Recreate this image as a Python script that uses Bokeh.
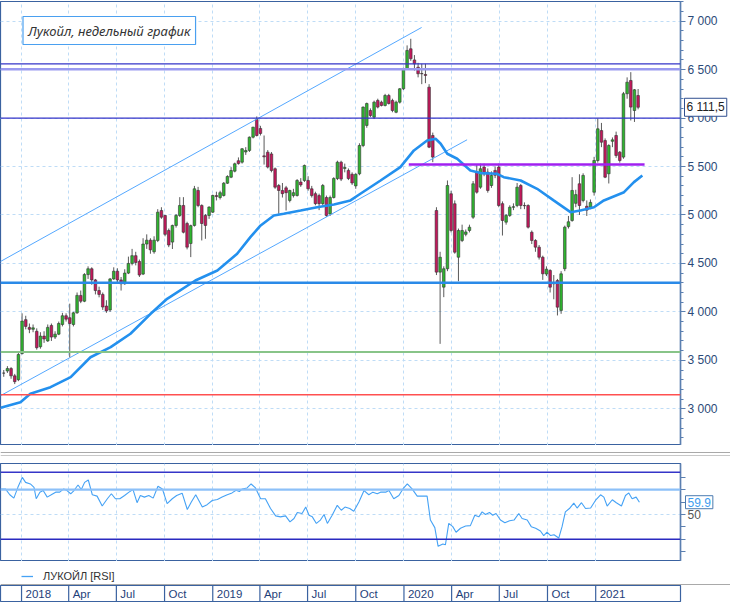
from datetime import datetime
from bokeh.plotting import figure
from bokeh.layouts import column
from bokeh.models import (Range1d, Span, Label, FixedTicker, SingleIntervalTicker,
                          Legend, LegendItem, ColumnDataSource)
from bokeh.core.properties import value
from bokeh.embed import file_html
from bokeh.resources import INLINE

# ---------------- data (weekly candles, first week 2017-11-27) ----------------
opens = [3368, 3390, 3415, 3340, 3300, 3570, 3920, 3840, 3820, 3800,
         3640, 3750, 3700, 3860, 3740, 3770, 3870, 3960, 3940, 3870,
         3990, 4170, 4110, 4385, 4445, 4330, 4220, 4180, 4060, 4020,
         4340, 4420, 4330, 4290, 4400, 4500, 4580, 4520, 4390, 4700,
         4740, 4620, 4737, 5046, 4995, 4840, 4720, 4892, 4995, 5098,
         4912, 4705, 4892, 5253, 5098, 4995, 4995, 5029, 5200, 5180,
         5201, 5328, 5390, 5452, 5560, 5545, 5650, 5666, 5803, 5986,
         5893, 5610, 5648, 5630, 5477, 5304, 5253, 5280, 5150, 5200,
         5201, 5340, 5356, 5356, 5270, 5220, 5200, 5117, 5180, 5010,
         5180, 5376, 5545, 5480, 5460, 5420, 5300, 5425, 5717, 5924,
         6078, 6009, 6182, 6164, 6130, 6233, 6182, 6060, 6164, 6302,
         6509, 6715, 6600, 6525, 6460, 6450, 6319, 5820, 5046, 4410,
         4255, 4445, 5219, 5116, 4564, 4737, 4800, 4840, 4977, 5442,
         5287, 5494, 5442, 5304, 5460, 5494, 5117, 4926, 4995, 5080,
         5098, 5304, 5098, 5098, 4822, 4737, 4668, 4564, 4390, 4427,
         4290, 4323, 4015, 4445, 4880, 4943, 5120, 5322, 5150, 5090,
         5080, 5235, 5562, 5871, 5768, 5425, 5760, 5820, 5648, 5597,
         6251, 6388, 6078, 6233]
highs = [3400, 3440, 3430, 3360, 3580, 3985, 3960, 3880, 3870, 3830,
         3790, 3800, 3870, 3880, 3800, 3900, 3990, 3985, 4085, 4000,
         4200, 4220, 4400, 4470, 4460, 4340, 4260, 4200, 4120, 4350,
         4460, 4450, 4360, 4440, 4570, 4650, 4620, 4540, 4760, 4800,
         4760, 4780, 5060, 5080, 5000, 4860, 4900, 5010, 5184, 5184,
         4930, 4900, 5300, 5290, 5110, 5010, 5090, 5210, 5240, 5250,
         5340, 5410, 5494, 5540, 5594, 5690, 5700, 5810, 5910, 6017,
         5920, 5820, 5670, 5650, 5490, 5320, 5330, 5300, 5260, 5270,
         5370, 5380, 5520, 5400, 5300, 5240, 5220, 5320, 5200, 5200,
         5390, 5560, 5560, 5530, 5480, 5440, 5430, 5740, 6120, 6160,
         6100, 6180, 6200, 6180, 6250, 6250, 6200, 6180, 6310, 6520,
         6750, 6818, 6650, 6570, 6560, 6560, 6350, 5850, 5080, 4620,
         4470, 5356, 5250, 5150, 4860, 4900, 4850, 4900, 5350, 5520,
         5530, 5530, 5480, 5450, 5500, 5530, 5140, 5010, 5100, 5120,
         5330, 5320, 5130, 5110, 4840, 4750, 4690, 4580, 4470, 4440,
         4380, 4340, 4420, 4890, 4990, 5390, 5260, 5420, 5430, 5150,
         5160, 5600, 5996, 5950, 5790, 5730, 5800, 5860, 5660, 6270,
         6420, 6474, 6300, 6300]
lows = [3330, 3370, 3310, 3255, 3285, 3560, 3820, 3780, 3790, 3610,
        3620, 3680, 3690, 3700, 3720, 3760, 3850, 3900, 3530, 3850,
        3980, 4090, 4100, 4340, 4280, 4180, 4150, 4020, 3990, 4000,
        4330, 4300, 4220, 4280, 4390, 4480, 4480, 4360, 4380, 4650,
        4600, 4600, 4720, 4960, 4780, 4668, 4649, 4870, 4980, 4810,
        4645, 4565, 4880, 5080, 4737, 4754, 4960, 5020, 5150, 5160,
        5190, 5320, 5380, 5440, 5520, 5530, 5620, 5650, 5790, 5810,
        5820, 5520, 5480, 5440, 5270, 5012, 5180, 5046, 5130, 5180,
        5190, 5290, 5340, 5250, 5180, 5100, 5050, 5100, 4980, 4990,
        5170, 5360, 5350, 5440, 5360, 5310, 5270, 5410, 5700, 5900,
        6010, 5990, 6100, 6120, 6120, 6140, 6060, 6050, 6150, 6290,
        6500, 6590, 6490, 6420, 6350, 6360, 5690, 5545, 4380, 3670,
        4152, 4420, 4820, 4600, 4316, 4720, 4780, 4820, 4960, 5220,
        5270, 5400, 5230, 5280, 5380, 5080, 4788, 4900, 4980, 5050,
        5080, 5060, 5060, 4860, 4700, 4620, 4540, 4330, 4370, 4200,
        4130, 3963, 3980, 4420, 4860, 4930, 5080, 5000, 5130, 4990,
        5060, 5200, 5540, 5700, 5380, 5325, 5700, 5590, 5540, 5580,
        6200, 5975, 5960, 6090]
closes = [3368, 3415, 3340, 3280, 3560, 3905, 3850, 3820, 3835, 3630,
          3750, 3720, 3840, 3740, 3770, 3880, 3960, 3925, 3880, 3990,
          4170, 4110, 4385, 4445, 4330, 4220, 4180, 4050, 4010, 4340,
          4420, 4330, 4290, 4400, 4500, 4580, 4510, 4380, 4700, 4740,
          4640, 4740, 5029, 4977, 4800, 4690, 4892, 4995, 5098, 4822,
          4668, 4890, 5270, 5098, 4912, 4892, 5081, 5201, 5190, 5230,
          5328, 5397, 5459, 5528, 5530, 5683, 5665, 5803, 5906, 5820,
          5841, 5600, 5494, 5459, 5287, 5253, 5220, 5230, 5253, 5230,
          5356, 5310, 5511, 5270, 5200, 5117, 5117, 5304, 4995, 5180,
          5376, 5545, 5370, 5490, 5376, 5330, 5420, 5717, 6113, 6150,
          6026, 6164, 6113, 6130, 6233, 6150, 6078, 6164, 6302, 6509,
          6698, 6612, 6560, 6457, 6457, 6440, 5700, 5597, 4410, 4564,
          4445, 5304, 4840, 4616, 4840, 4840, 4825, 4874, 5322, 5235,
          5477, 5425, 5253, 5408, 5410, 5098, 4943, 4995, 5080, 5085,
          5287, 5098, 5095, 4874, 4737, 4668, 4564, 4393, 4440, 4255,
          4300, 4049, 4393, 4874, 4930, 5253, 5210, 5098, 5408, 5050,
          5130, 5562, 5889, 5751, 5390, 5717, 5775, 5614, 5562, 6251,
          6370, 6113, 6292, 6111.5]

# moving average (week number, price)
ma_week = [-0.7, 4.7, 7.4, 12.9, 18.4, 23.8, 29.3, 34.7, 40.2, 44.7,
           52.4, 58.4, 63.8, 67.4, 70.2, 73.8, 76.5, 81.1, 85.6, 90.2,
           94.7, 97.4, 102.9, 108.3, 112.0, 115.6, 117.9, 119.3, 121.1, 123.8,
           127.4, 130.2, 134.7, 136.5, 141.1, 145.6, 150.1, 154.7, 157.4, 161.1,
           163.8, 169.3, 172.0, 174.3]
ma_values = [3010, 3068, 3155, 3223, 3326, 3532, 3636, 3774, 3980, 4135,
             4324, 4427, 4600, 4771, 4892, 4995, 5012, 5046, 5080, 5108,
             5150, 5219, 5356, 5494, 5666, 5769, 5786, 5735, 5632, 5580,
             5459, 5432, 5425, 5390, 5356, 5270, 5150, 5029, 5046, 5080,
             5150, 5235, 5339, 5408]

# RSI (week number, value)
rsi_week = [-0.7, 0.6, 1.8, 2.9, 4.0, 5.2, 6.1, 7.4, 8.4, 9.0,
            10.0, 10.9, 12.0, 13.1, 14.3, 15.4, 16.5, 17.4, 18.4, 19.3,
            20.4, 21.3, 22.2, 23.2, 24.3, 25.6, 27.0, 28.4, 29.5, 30.6,
            31.8, 33.1, 34.3, 35.4, 36.5, 37.4, 38.5, 39.7, 40.9, 42.2,
            43.4, 44.7, 46.1, 47.3, 48.8, 50.2, 51.3, 52.5, 54.3, 55.6,
            57.0, 58.4, 59.7, 61.1, 62.4, 63.5, 64.4, 65.2, 66.5, 67.6,
            68.8, 70.2, 71.5, 72.9, 74.3, 75.6, 77.0, 78.2, 79.3, 80.2,
            81.5, 82.5, 83.4, 84.3, 85.4, 86.5, 87.5, 88.4, 89.7, 91.1,
            92.2, 93.2, 94.5, 95.6, 97.0, 98.4, 99.7, 100.8, 102.0, 102.9,
            104.3, 105.2, 106.5, 107.9, 109.0, 110.2, 111.5, 112.9, 114.3, 115.6,
            116.5, 117.7, 118.6, 119.9, 120.6, 121.5, 122.6, 123.5, 124.7, 126.1,
            127.4, 128.6, 129.7, 130.6, 131.5, 132.6, 133.5, 134.4, 135.6, 136.8,
            138.1, 139.3, 140.6, 141.5, 142.9, 144.0, 145.2, 146.5, 147.4, 148.3,
            149.3, 150.2, 151.5, 152.4, 153.3, 154.4, 155.6, 156.5, 157.7, 158.8,
            160.2, 161.5, 162.9, 163.8, 164.7, 166.1, 167.2, 168.6, 169.7, 170.6,
            171.5, 172.6, 173.5]
rsi_values = [70.6, 70.6, 65.9, 63.2, 71.9, 79.9, 75.9, 74.6, 71.9, 62.7,
              68.0, 69.3, 64.0, 65.9, 68.0, 68.0, 70.6, 69.3, 66.7, 69.3,
              73.8, 70.1, 75.9, 77.8, 65.9, 64.8, 56.8, 62.7, 66.7, 62.7,
              62.7, 65.3, 68.0, 70.1, 59.5, 65.3, 64.0, 65.3, 63.2, 72.7,
              70.6, 58.7, 62.7, 65.3, 67.2, 54.0, 60.0, 65.9, 56.0, 57.9,
              61.3, 62.1, 64.0, 65.9, 67.4, 69.6, 68.5, 70.6, 71.4, 74.6,
              71.4, 62.7, 62.7, 54.8, 48.9, 48.1, 48.9, 44.1, 46.8, 51.6,
              50.8, 56.0, 49.4, 48.1, 42.8, 45.5, 50.0, 42.8, 49.4, 57.4,
              53.4, 56.0, 54.8, 52.6, 60.0, 69.3, 65.9, 68.0, 66.7, 68.0,
              68.0, 69.3, 62.7, 65.3, 70.6, 74.6, 70.6, 64.8, 64.8, 64.8,
              45.5, 39.4, 24.3, 26.2, 25.6, 42.8, 40.2, 35.7, 38.9, 40.7,
              41.0, 49.4, 48.1, 52.1, 50.0, 51.6, 49.4, 50.8, 45.5, 43.3,
              44.9, 45.5, 50.8, 46.8, 45.5, 40.2, 38.9, 36.7, 33.0, 35.7,
              33.0, 33.6, 31.0, 40.2, 52.1, 54.8, 59.2, 55.2, 59.5, 54.8,
              55.2, 61.3, 65.9, 64.0, 56.8, 61.9, 59.5, 56.8, 65.3, 67.4,
              62.7, 64.0, 59.9]

# drawn lines (week number, price)
upper_channel_week = [-0.74, 114.1]
upper_channel_price = [4520, 6935]
lower_channel_week = [-0.74, 126.5]
lower_channel_price = [3135, 5776]
resistance_week = [110.6, 174.9]
resistance_price = [5520, 5520]
price_levels = [6560, 6505, 6000, 4300, 3585, 3145]
rsi_levels = [84, 70, 30]

quarter_dates = ["2018-01-01", "2018-04-01", "2018-07-01", "2018-10-01",
                 "2019-01-01", "2019-04-01", "2019-07-01", "2019-10-01",
                 "2020-01-01", "2020-04-01", "2020-07-01", "2020-10-01",
                 "2021-01-01"]
quarter_labels = ["2018", "Apr", "Jul", "Oct", "2019", "Apr", "Jul", "Oct",
                  "2020", "Apr", "Jul", "Oct", "2021"]
price_ticks = [3000, 3500, 4000, 4500, 5000, 5500, 6000, 6500, 7000]
title_text = "Лукойл, недельный график"
legend_text = "ЛУКОЙЛ [RSI]"
last_price = closes[-1]
last_rsi = rsi_values[-1]

# ---------------- helpers ----------------
EPOCH = datetime(1970, 1, 1)
BASE = datetime(2017, 11, 27)
DAY = 86400000.0
BASE_MS = (BASE - EPOCH).total_seconds() * 1000


def week_ms(w):
    return BASE_MS + w * 7 * DAY


def date_ms(s):
    return (datetime.strptime(s, "%Y-%m-%d") - EPOCH).total_seconds() * 1000


FW = 680
RB = 50
H_MAIN, H_SEP, H_RSI, H_LEG, H_DATE = 444, 18, 98, 24, 16
FONT = "Liberation Sans"
GRID = "#bfdcf6"
FRAME = "#3a62a0"
AXIS = "#5b7fb0"

xr = Range1d(week_ms(-0.74), week_ms(184.7))
x_end = week_ms(184.7)
q_ms = [date_ms(d) for d in quarter_dates]


def strip_fig(h, yr):
    f = figure(x_range=Range1d(0, 1), y_range=yr, frame_width=FW + RB, frame_height=h,
               x_axis_location=None, y_axis_location=None, toolbar_location=None,
               output_backend="svg", min_border=0, outline_line_color=None,
               background_fill_color="white", border_fill_color="white")
    f.xgrid.visible = False
    f.ygrid.visible = False
    return f


# ---------------- main price chart ----------------
p1 = figure(x_range=xr, y_range=Range1d(2621, 7203), frame_width=FW, frame_height=H_MAIN,
            x_axis_type="datetime", x_axis_location=None, y_axis_location="right",
            toolbar_location=None, output_backend="svg",
            min_border_left=0, min_border_top=1, min_border_bottom=0, min_border_right=RB,
            outline_line_color=FRAME, outline_line_width=1.2,
            background_fill_color="white", border_fill_color="white")
yt = SingleIntervalTicker(interval=500, num_minor_ticks=5)
p1.yaxis.ticker = yt
p1.ygrid.ticker = yt
p1.xgrid.ticker = FixedTicker(ticks=q_ms)
for g in (p1.xgrid, p1.ygrid):
    g.grid_line_color = GRID
    g.grid_line_dash = "3 3"
ax = p1.yaxis[0]
ax.major_label_overrides = {float(v): f"{v:,}".replace(",", " ") for v in price_ticks}
ax.axis_line_color = AXIS
ax.axis_line_width = 1.5
ax.major_tick_line_color = AXIS
ax.minor_tick_line_color = AXIS
ax.major_tick_out, ax.major_tick_in = 5, 0
ax.minor_tick_out, ax.minor_tick_in = 3, 0
ax.major_label_text_font = FONT
ax.major_label_text_font_size = "12px"
ax.major_label_text_color = "#2b4a78"
ax.major_label_standoff = 2

n = len(closes)
cx = [week_ms(i + 1.0 / 7) for i in range(n)]
colors = []
for o, c in zip(opens, closes):
    colors.append("#2fb52f" if c > o else ("#c2185b" if c < o else "#1f3fbf"))
src = ColumnDataSource(dict(x=cx, h=highs, l=lows,
                            top=[max(o, c) for o, c in zip(opens, closes)],
                            bottom=[min(o, c) for o, c in zip(opens, closes)],
                            color=colors))
p1.segment(x0="x", y0="l", x1="x", y1="h", source=src, line_color="#5a5a5a", line_width=1)
p1.vbar(x="x", width=5 * DAY, top="top", bottom="bottom", fill_color="color",
        line_color="#333333", line_width=0.6, source=src)

p1.line([week_ms(w) for w in upper_channel_week], upper_channel_price, line_color="#55a8ff", line_width=1)
p1.line([week_ms(w) for w in lower_channel_week], lower_channel_price, line_color="#55a8ff", line_width=1)
p1.line([week_ms(w) for w in ma_week], ma_values, line_color="#2390ee", line_width=2.6)
p1.line([week_ms(w) for w in resistance_week], resistance_price, line_color="#a020f0", line_width=2.5)

level_colors = ["#3535c8", "#9a9af0", "#3535c8", "#2a8ae8", "#88c488", "#ff5050"]
level_widths = [1.2, 2.5, 1.2, 2.5, 2, 1.5]
for lv, col, lw in zip(price_levels, level_colors, level_widths):
    p1.add_layout(Span(location=lv, dimension="width", line_color=col, line_width=lw))

p1.add_layout(Label(x=22.5, y=H_MAIN - 29, x_units="screen", y_units="screen", text=title_text,
                    text_font="Noto Sans", text_font_style="italic", text_font_size="13px",
                    text_color="#333333", text_baseline="middle", text_align="left",
                    border_line_color="#4aa0f0", border_line_width=1.2,
                    background_fill_color="white", padding=5))
# last-price box sits over the axis, so it goes into the right-hand panel (not clipped to frame)
p1.add_layout(Label(x=x_end, y=last_price, x_offset=4,
                    text=f"{last_price:,.1f}".replace(",", " ").replace(".", ","),
                    text_font=FONT, text_font_size="12px", text_color="#222222",
                    text_baseline="middle", text_align="left",
                    border_line_color="#2f4f8f", background_fill_color="white", padding=2),
              "right")

# ---------------- separator ----------------
sep = strip_fig(H_SEP, Range1d(H_SEP, 0))
sep.add_layout(Span(location=7, dimension="width", line_color="#a9a9a9", line_width=1))
sep.add_layout(Span(location=10, dimension="width", line_color="#c8c8c8", line_width=1))

# ---------------- RSI panel ----------------
p2 = figure(x_range=xr, y_range=Range1d(12.1, 91.1), frame_width=FW, frame_height=H_RSI,
            x_axis_type="datetime", x_axis_location=None, y_axis_location="right",
            toolbar_location=None, output_backend="svg",
            min_border_left=0, min_border_top=0, min_border_bottom=0, min_border_right=RB,
            outline_line_color=FRAME, outline_line_width=1.2,
            background_fill_color="white", border_fill_color="white")
rt = FixedTicker(ticks=[50], minor_ticks=[20, 30, 40, 60, 70, 80])
p2.yaxis.ticker = rt
p2.ygrid.ticker = FixedTicker(ticks=[50])
p2.xgrid.ticker = FixedTicker(ticks=q_ms)
for g in (p2.xgrid, p2.ygrid):
    g.grid_line_color = GRID
    g.grid_line_dash = "3 3"
ax2 = p2.yaxis[0]
ax2.axis_line_color = AXIS
ax2.axis_line_width = 1.5
ax2.major_tick_line_color = AXIS
ax2.minor_tick_line_color = AXIS
ax2.major_tick_out, ax2.major_tick_in = 5, 0
ax2.minor_tick_out, ax2.minor_tick_in = 5, 0
ax2.major_label_text_font = FONT
ax2.major_label_text_font_size = "12px"
ax2.major_label_text_color = "#555555"
ax2.major_label_standoff = 2

rsi_colors = ["#3535c8", "#8cc0f8", "#2a2ac0"]
rsi_widths = [1.5, 2.2, 1.5]
for lv, col, lw in zip(rsi_levels, rsi_colors, rsi_widths):
    p2.add_layout(Span(location=lv, dimension="width", line_color=col, line_width=lw))
p2.line([week_ms(w) for w in rsi_week], rsi_values, line_color="#45a2f5", line_width=1.1)
p2.add_layout(Label(x=x_end, y=last_rsi, x_offset=5, text=f"{last_rsi:.1f}",
                    text_font=FONT, text_font_size="12px", text_color="#3d9df0",
                    text_baseline="middle", text_align="left",
                    border_line_color="#4a7ab0", background_fill_color="white", padding=2),
              "right")

# ---------------- legend strip ----------------
pl = strip_fig(H_LEG, Range1d(H_LEG, 0))
key = pl.line(x=[0.5], y=[-10], line_color="#45a2f5", line_width=1.3)
pl.add_layout(Span(location=23, dimension="width", line_color="#a9a9a9", line_width=1))
pl.add_layout(Legend(items=[LegendItem(label=legend_text, renderers=[key])],
                     location=(21, 2), orientation="horizontal",
                     label_text_font=FONT, label_text_font_size="11px", label_text_color="#333333",
                     glyph_width=12, glyph_height=14, label_height=14, label_standoff=10,
                     padding=2, margin=0, border_line_color=None, background_fill_alpha=0))

# ---------------- date strip ----------------
p3 = figure(x_range=xr, y_range=Range1d(0, 1), frame_width=FW, frame_height=H_DATE,
            x_axis_location=None, y_axis_location=None, toolbar_location=None,
            output_backend="svg", min_border_left=0, min_border_top=0, min_border_bottom=1,
            min_border_right=RB, outline_line_color=FRAME, outline_line_width=1.2,
            background_fill_color="white", border_fill_color="white")
p3.xgrid.visible = False
p3.ygrid.visible = False
p3.segment(x0=q_ms, y0=0, x1=q_ms, y1=1, line_color=FRAME, line_width=1.2)
p3.text(x=q_ms, y=[0.5] * len(q_ms), text=quarter_labels, x_offset=4,
        text_font=value(FONT), text_font_size="11.5px", text_color="#1f3f7a",
        text_baseline="middle", text_align="left")

layout = column(p1, sep, p2, pl, p3)
open("out.html", "w").write(file_html(layout, INLINE, "Лукойл"))
